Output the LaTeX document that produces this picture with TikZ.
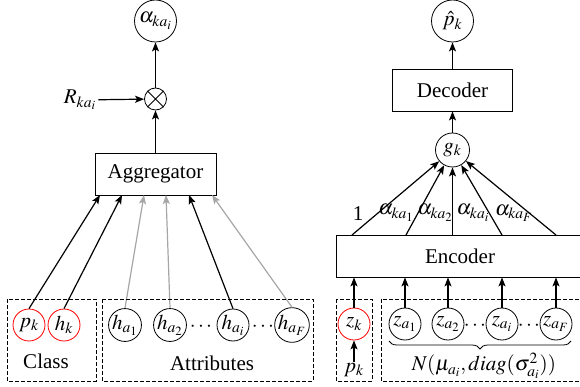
\documentclass[tikz,border=0pt]{standalone}
\usepackage{mathptmx}
\usepackage[no-math]{fontspec}
\setmainfont{Liberation Serif}
\usetikzlibrary{arrows.meta,decorations.pathreplacing}
\begin{document}
\begin{tikzpicture}[x=1pt,y=-1pt,
 every node/.style={font=\fontsize{21}{24}\selectfont},
 mth/.style={font=\fontsize{21}{24}\selectfont},
 circ/.style={draw,circle,minimum size=32pt,inner sep=0pt,line width=0.8pt,mth},
 rcirc/.style={circ,draw=red},
 bigcirc/.style={circ,minimum size=42pt},
 box/.style={draw,rectangle,line width=0.8pt,inner sep=0pt},
 dbox/.style={draw,dash pattern=on 4pt off 2pt,line width=0.7pt},
 arr/.style={-{Stealth[length=9pt,width=7pt,inset=2pt]},line width=1.2pt},
 garr/.style={arr,draw=gray!70}
]
\useasboundingbox (0,0) rectangle (580,387);
\clip (0,0) rectangle (580,387);

% ---------------- left part ----------------
\node[bigcirc] (alpha) at (155.5,21) {$\alpha_{ka_i}$};
\node[circle,draw,minimum size=22pt,inner sep=0pt,line width=0.8pt] (ot) at (155.5,99) {};
\draw[line width=0.8pt] (ot.north east) -- (ot.south west) (ot.north west) -- (ot.south east);
\node[inner sep=2pt,mth] (R) at (80,100) {$R_{ka_i}$};
\draw[arr] (R) -- (ot);
\draw[arr] (ot) -- (alpha);
\node[box,minimum width=121pt,minimum height=42pt] (agg) at (155.5,174) {Aggregator};
\draw[arr] (agg) -- (ot);

\coordinate (g1) at (100,195);
\coordinate (g2) at (122,195);
\coordinate (g3) at (144,195);
\coordinate (g4) at (166,195);
\coordinate (g5) at (189,195);
\coordinate (g6) at (212,195);

\node[rcirc] (pk) at (29,325) {$p_k$};
\node[rcirc] (hk) at (64,325) {$h_k$};
\node[circ] (ha1) at (125,325) {$h_{a_1}$};
\node[circ] (ha2) at (170,325) {$h_{a_2}$};
\node[circ] (hai) at (233,325) {$h_{a_i}$};
\node[circ] (haF) at (292,325) {$h_{a_F}$};
\node (d1) at (201,327) {$\cdots$};
\node (d2) at (263,327) {$\cdots$};

\draw[arr] (pk.north) -- (g1);
\draw[arr] (hk.north) -- (g2);
\draw[garr] (ha1.north) -- (g3);
\draw[garr] (ha2.north) -- (g4);
\draw[arr] (hai.north) -- (g5);
\draw[garr] (haF.north) -- (g6);

\draw[dbox] (7,299) rectangle (96,381);
\draw[dbox] (102,299) rectangle (313,381);
\node (cls) at (46,361) {Class};
\node (att) at (212,363) {Attributes};

% ---------------- right part ----------------
\node[bigcirc] (phat) at (452.5,21) {$\hat{p}_k$};
\node[box,minimum width=120pt,minimum height=42pt] (dec) at (452.5,90) {Decoder};
\node[circ,minimum size=34pt] (gk) at (452.5,150) {$g_k$};
\draw[arr] (dec) -- (phat);
\draw[arr] (gk) -- (dec);

\node[box,minimum width=248pt,minimum height=42pt] (enc) at (460,256) {Encoder};
\coordinate (e1) at (352,235);
\coordinate (e2) at (406,235);
\coordinate (e3) at (452.5,235);
\coordinate (e4) at (502,235);
\coordinate (e5) at (556,235);
\foreach \e in {e1,e2,e3,e4,e5} \draw[arr] (\e) -- (gk);

\node (l1) at (358,214) {1};
\node[mth] (l2) at (396,213) {$\alpha_{ka_1}$};
\node[mth] (l3) at (435,213) {$\alpha_{ka_2}$};
\node[mth] (l4) at (473,213) {$\alpha_{ka_i}$};
\node[mth] (l5) at (514,213) {$\alpha_{ka_F}$};

\node[rcirc] (zk) at (354,324) {$z_k$};
\node[circ] (za1) at (405,324) {$z_{a_1}$};
\node[circ] (za2) at (448,324) {$z_{a_2}$};
\node[circ] (zai) at (502,324) {$z_{a_i}$};
\node[circ] (zaF) at (556,324) {$z_{a_F}$};
\node (d3) at (475,326) {$\cdots$};
\node (d4) at (529,326) {$\cdots$};
\foreach \z in {zk,za1,za2,zai,zaF} \draw[arr] (\z.north) -- (\z.north |- enc.south);

\node[inner sep=1pt,mth] (pk2) at (354,370) {$p_k$};
\draw[arr] (pk2) -- (zk);

\draw[dbox] (336,299) rectangle (372,381);
\draw[dbox] (381,299) rectangle (590,381);

\draw[line width=0.8pt,decorate,decoration={brace,mirror,amplitude=8pt}] (389,341) -- (571,341);
\node[mth] (N) at (484,366) {$N(\mu_{a_i},diag(\sigma_{a_i}^2))$};
\end{tikzpicture}
\end{document}
